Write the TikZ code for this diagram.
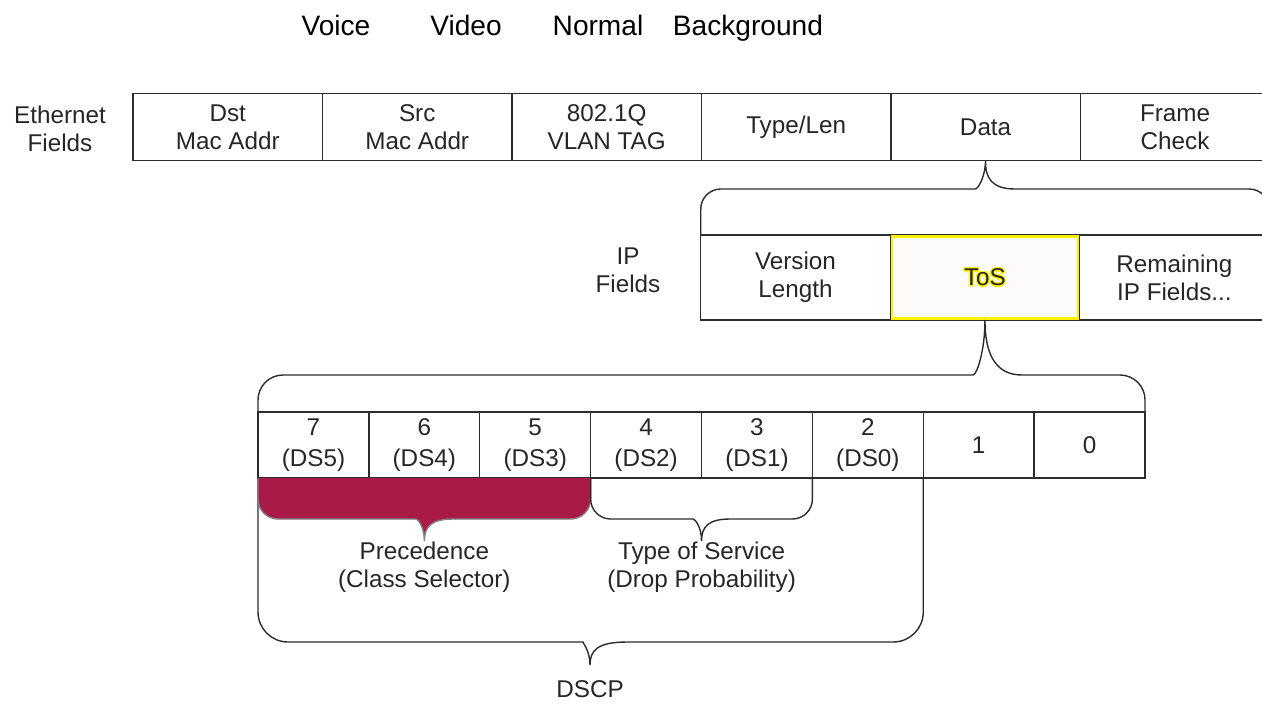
\documentclass[tikz,border=0pt]{standalone}
\usepackage{fontspec}
\setmainfont{Liberation Sans}
\usetikzlibrary{positioning}
\definecolor{crimson}{RGB}{170,26,70}
\definecolor{linegray}{RGB}{45,45,45}
\definecolor{tosbg}{RGB}{253,250,250}
\begin{document}
\begin{tikzpicture}[
    x=0.02cm, y=-0.02cm,
    every node/.style={font=\fontsize{13.8}{16}\selectfont, align=center, inner sep=0pt, outer sep=0pt, text=black!85},
    toplabel/.style={font=\fontsize{16}{19}\selectfont, text=black, anchor=base},
    ecell/.style={draw=linegray, line width=0.8pt, minimum width=3.79cm, minimum height=1.34cm},
    ipcell/.style={draw=linegray, line width=0.8pt, minimum width=3.79cm, minimum height=1.7cm},
    bitcell/.style={draw=linegray, line width=0.8pt, minimum width=2.218cm, minimum height=1.32cm,
        font=\fontsize{13.8}{18}\selectfont},
    brace/.style={draw=linegray, line width=0.8pt}
]
\useasboundingbox (0,0) rectangle (1262,707);
\clip (0,0) rectangle (1262,707);

% Klassen
\node[toplabel] (voice) at (336,35) {Voice};
\node[toplabel] (video) at (466,35) {Video};
\node[toplabel] (normal) at (598,35) {Normal};
\node[toplabel] (backgr) at (748,35) {Background};

% Ethernet
\node (ethlbl) at (60,129) {Ethernet\\Fields};
\node[ecell] (dst) at (227.75,127) {Dst\\Mac Addr};
\node[ecell, right=0pt of dst] (src) {Src\\Mac Addr};
\node[ecell, right=0pt of src] (vlan) {802.1Q\\VLAN TAG};
\node[ecell, right=0pt of vlan] (typelen) {Type/Len};
\node[ecell, right=0pt of typelen] (data) {Data};
\node[ecell, right=0pt of data] (fcheck) {Frame\\Check};

% IP
\node (iplbl) at (628,270) {IP\\Fields};
\node[ipcell] (ver) at (795.5,277.5) {Version\\Length};
\node[ipcell, right=0pt of ver, fill=tosbg] (tos) {};
\node[ipcell, right=0pt of tos] (rest) {Remaining\\IP Fields...};
\draw[yellow, line width=1.5pt] ([shift={(1pt,-1pt)}]tos.north west) rectangle ([shift={(-1pt,1pt)}]tos.south east);
\foreach \dx/\dy in {-0.7/0,0.7/0,0/-0.7,0/0.7,-0.5/-0.5,0.5/0.5,-0.5/0.5,0.5/-0.5}
    \node[text=yellow] at ([xshift=\dx pt,yshift=\dy pt]tos.center) {ToS};
\node (tostxt) at (tos.center) {ToS};

% ToS-Bits
\node[bitcell] (b7) at (313.45,445) {7\\(DS5)};
\node[bitcell, right=0pt of b7] (b6) {6\\(DS4)};
\node[bitcell, right=0pt of b6] (b5) {5\\(DS3)};
\node[bitcell, right=0pt of b5] (b4) {4\\(DS2)};
\node[bitcell, right=0pt of b4] (b3) {3\\(DS1)};
\node[bitcell, right=0pt of b3] (b2) {2\\(DS0)};
\node[bitcell, right=0pt of b2] (b1) {1};
\node[bitcell, right=0pt of b1] (b0) {0};

% Klammern oben
\draw[brace, rounded corners=0.4cm] (ver.north west) |- (955,189) [sharp corners]
    .. controls (978,189) and (985,178) .. (data.south)
    .. controls (985,178) and (992,189) .. (1015,189) [rounded corners=0.4cm] -| (rest.north east);
\draw[brace, rounded corners=0.5cm] (b7.north west) |- (948,375) [sharp corners]
    .. controls (977,375) and (985,350) .. (tos.south)
    .. controls (985,350) and (993,375) .. (1022,375) [rounded corners=0.5cm] -| (b0.north east);

% Klammern unten
\coordinate (ptip) at (424.35,541);
\coordinate (ttip) at (b4.south east |- ptip);
\coordinate (dtip) at (590,665);
\draw[brace, rounded corners=0.6cm] (b7.south west) |- (553,642) [sharp corners]
    .. controls (582,642) and (590,650) .. (dtip)
    .. controls (590,650) and (598,642) .. (627,642) [rounded corners=0.6cm] -| (b2.south east);
\filldraw[fill=crimson, draw=gray, line width=0.8pt, rounded corners=0.4cm] (b7.south west) |- (396,519) [sharp corners]
    .. controls (418,519) and (424.35,527) .. (ptip)
    .. controls (424.35,527) and (431,519) .. (453,519) [rounded corners=0.4cm] -| (b5.south east);
\draw[brace, rounded corners=0.4cm] (b4.south west) |- (673,519) [sharp corners]
    .. controls (695,519) and (701.6,527) .. (ttip)
    .. controls (701.6,527) and (708,519) .. (730,519) [rounded corners=0.4cm] -| (b3.south east);

\node (prec) at (424.35,567) {Precedence\\(Class Selector)};
\node (tosvc) at (701.6,567) {Type of Service\\(Drop Probability)};
\node (dscp) at (590,689) {DSCP};
\end{tikzpicture}
\end{document}
